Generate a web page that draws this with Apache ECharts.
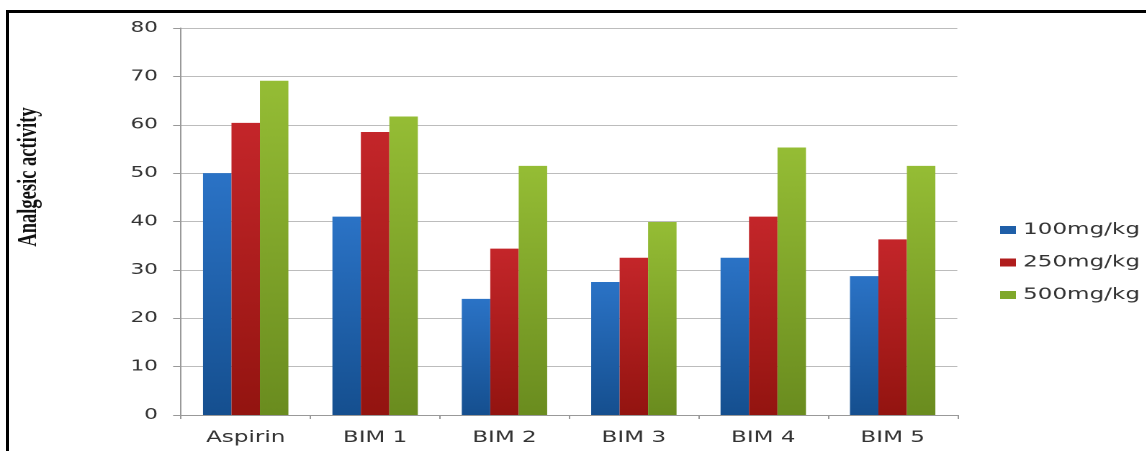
<!DOCTYPE html>
<html>
<head>
<meta charset="utf-8">
<script src="https://cdn.jsdelivr.net/npm/echarts@6/dist/echarts.min.js"></script>
<style>
html,body{margin:0;padding:0;background:#fff;overflow:hidden;}
#frame{position:absolute;left:6px;top:10px;width:1146px;height:451px;border-top:3px solid #000;border-left:3px solid #000;box-sizing:border-box;}
#chart{position:absolute;left:0;top:0;width:796px;height:451px;transform:scaleX(1.44);transform-origin:0 0;}
</style>
</head>
<body>
<div id="frame"></div>
<div id="chart"></div>
<script>
const categories = ['Aspirin', 'BIM 1', 'BIM 2', 'BIM 3', 'BIM 4', 'BIM 5'];
const seriesNames = ['100mg/kg', '250mg/kg', '500mg/kg'];
const dose100 = [50, 41, 24, 27.5, 32.5, 28.7];
const dose250 = [60.4, 58.5, 34.4, 32.5, 41, 36.3];
const dose500 = [69.1, 61.7, 51.5, 39.9, 55.3, 51.5];
const yTicks = [0, 10, 20, 30, 40, 50, 60, 70, 80];

function grad(top, bottom) {
  return new echarts.graphic.LinearGradient(0, 0, 0, 1, [
    { offset: 0, color: top }, { offset: 1, color: bottom }
  ]);
}
const fills = [
  grad('#2b73c6', '#154f8f'),
  grad('#c4262a', '#931410'),
  grad('#95bd35', '#6a8c1f')
];
const legendColors = ['#1f5fa8', '#b01d1d', '#7fa82a'];

const chart = echarts.init(document.getElementById('chart'), null, { renderer: 'canvas', devicePixelRatio: 2 });
chart.setOption({
  animation: false,
  backgroundColor: 'transparent',
  grid: { left: 125.7, right: 131.2, top: 28, bottom: 36 },
  legend: {
    orient: 'vertical',
    left: 694.5,
    top: 221,
    padding: 0,
    itemWidth: 11,
    itemHeight: 8,
    itemGap: 14.5,
    icon: 'rect',
    textStyle: { fontFamily: 'DejaVu Sans', fontSize: 16, lineHeight: 18, color: '#333' },
    data: seriesNames.map((n, i) => ({ name: n, itemStyle: { color: legendColors[i] } }))
  },
  xAxis: {
    type: 'category',
    data: categories,
    axisLine: { lineStyle: { color: '#999', width: 1 } },
    axisTick: { show: true, length: 4, lineStyle: { color: '#999' } },
    axisLabel: { fontFamily: 'DejaVu Sans', fontSize: 16, color: '#333', margin: 15 }
  },
  yAxis: {
    type: 'value',
    min: yTicks[0],
    max: yTicks[yTicks.length - 1],
    interval: 10,
    name: 'Analgesic activity',
    nameLocation: 'middle',
    nameGap: 96,
    nameRotate: 90,
    nameTextStyle: { fontFamily: 'Liberation Serif', fontWeight: 'bold', fontSize: 18.5, color: '#111',
      padding: [0, 0, 0, 89] },
    axisLine: { show: true, lineStyle: { color: '#999', width: 1 } },
    axisTick: { show: true, length: 5.5, lineStyle: { color: '#999' } },
    axisLabel: { fontFamily: 'DejaVu Sans', fontSize: 15, color: '#333', margin: 16 },
    splitLine: { lineStyle: { color: '#bcbcbc', width: 1 } }
  },
  series: [dose100, dose250, dose500].map((d, i) => ({
    name: seriesNames[i],
    type: 'bar',
    data: d,
    barGap: '0%',
    barCategoryGap: '34%',
    itemStyle: { color: fills[i] }
  }))
});
</script>
</body>
</html>
